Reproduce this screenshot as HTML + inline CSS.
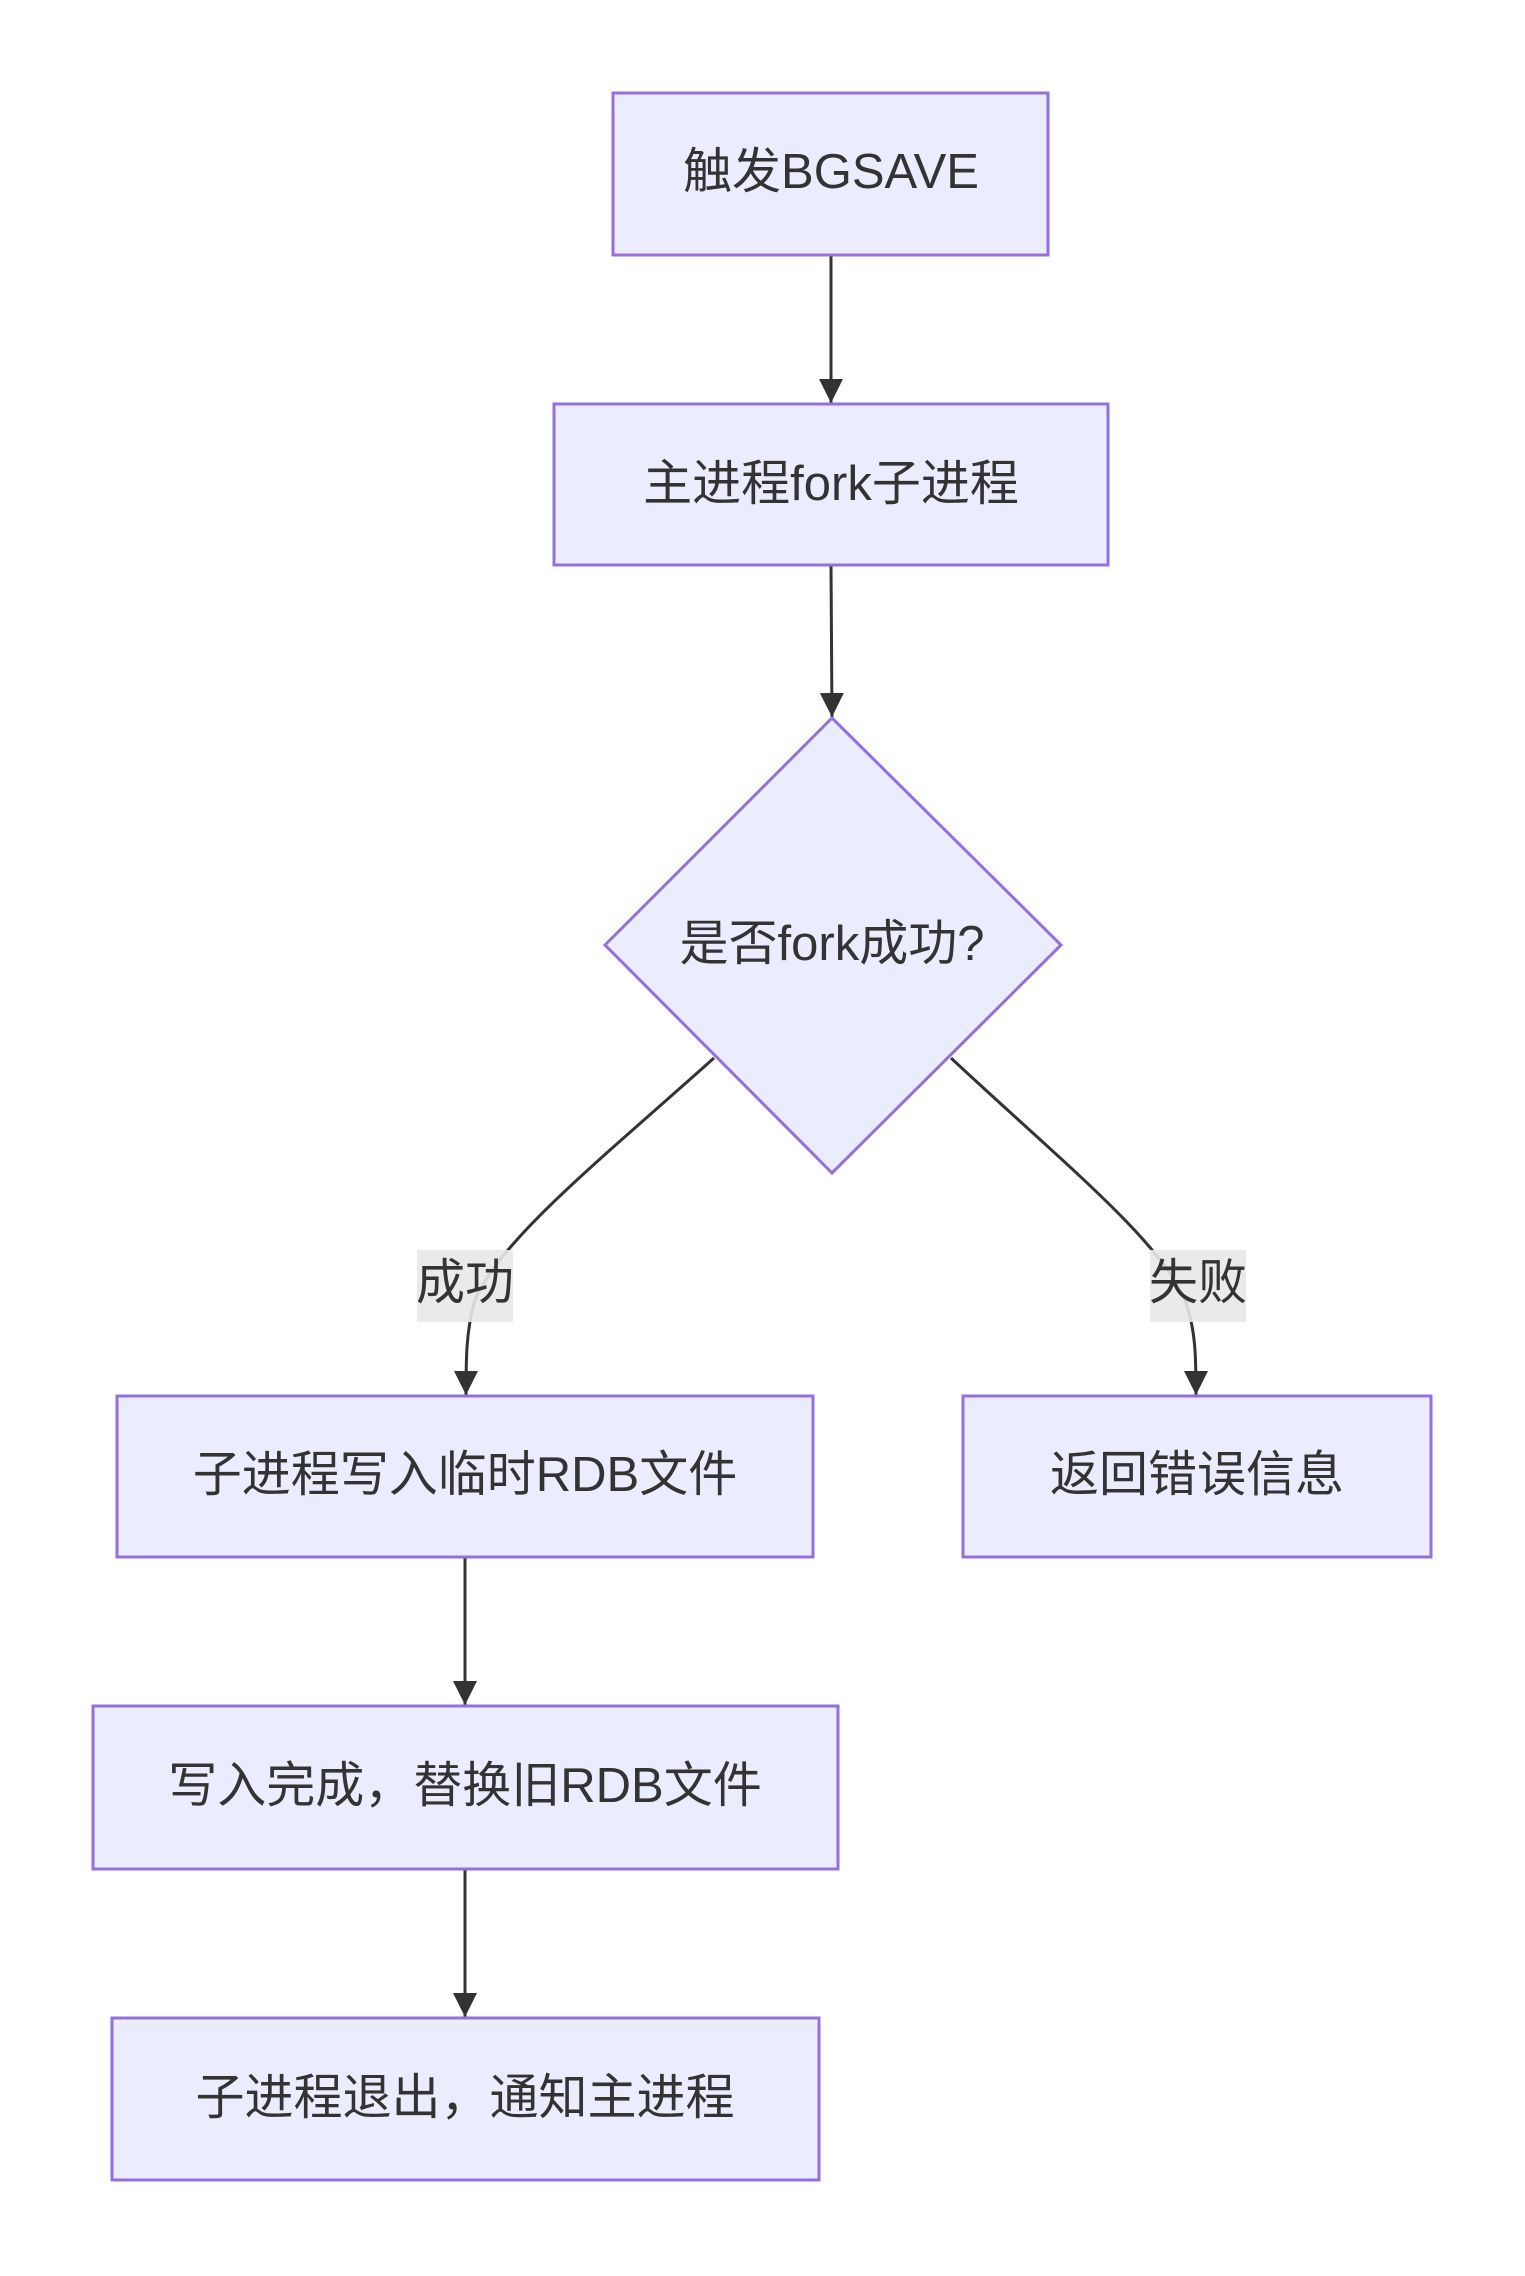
<!DOCTYPE html>
<html><head><meta charset="utf-8"><style>
html,body{margin:0;padding:0;background:#fff;}
svg{display:block;}
text{font-family:"Liberation Sans","Noto Sans CJK SC",sans-serif;fill:#333;font-size:49px;}
</style></head><body>
<svg width="1525" height="2276" viewBox="0 0 1525 2276" xmlns="http://www.w3.org/2000/svg">
<defs><marker id="a" viewBox="0 0 12 12" refX="11" refY="6" markerWidth="12" markerHeight="12" markerUnits="userSpaceOnUse" orient="auto"><path d="M0,0 L12,6 L0,12 z" fill="#333"/></marker>
<marker id="b" viewBox="0 0 10 10" refX="10" refY="5" markerWidth="24" markerHeight="24" markerUnits="userSpaceOnUse" orient="auto"><path d="M0,0 L10,5 L0,10 z" fill="#333"/></marker></defs>
<g stroke="#333" stroke-width="3" fill="none">
<path d="M831,256 L831,403" marker-end="url(#b)"/>
<path d="M831,566 L832,717" marker-end="url(#b)"/>
<path d="M714,1058 C600,1160 500,1240 475,1300 C466,1330 466,1360 466,1395" marker-end="url(#b)"/>
<path d="M951,1058 C1060,1160 1160,1240 1185,1300 C1196,1330 1196,1360 1196,1395" marker-end="url(#b)"/>
<path d="M465,1558 L465,1705" marker-end="url(#b)"/>
<path d="M465,1870 L465,2017" marker-end="url(#b)"/>
</g>
<g fill="#ECECFF" stroke="#9370DB" stroke-width="3">
<rect x="613" y="93" width="435" height="162"/>
<rect x="554" y="404" width="554" height="161"/>
<polygon points="832,718 1061,945 832,1173 605,945"/>
<rect x="117" y="1396" width="696" height="161"/>
<rect x="963" y="1396" width="468" height="161"/>
<rect x="93" y="1706" width="745" height="163"/>
<rect x="112" y="2018" width="707" height="162"/>
</g>
<rect x="417" y="1250" width="96" height="72" fill="#e8e8e8" opacity="0.9"/>
<rect x="1150" y="1250" width="96" height="72" fill="#e8e8e8" opacity="0.9"/>
<g text-anchor="middle" dominant-baseline="central">
<text x="831" y="172">触发BGSAVE</text>
<text x="831" y="484">主进程fork子进程</text>
<text x="832" y="944">是否fork成功?</text>
<text x="465" y="1283">成功</text>
<text x="1198" y="1283">失败</text>
<text x="465" y="1475">子进程写入临时RDB文件</text>
<text x="1197" y="1475">返回错误信息</text>
<text x="465" y="1786">写入完成，替换旧RDB文件</text>
<text x="465" y="2098">子进程退出，通知主进程</text>
</g>
</svg>
</body></html>
